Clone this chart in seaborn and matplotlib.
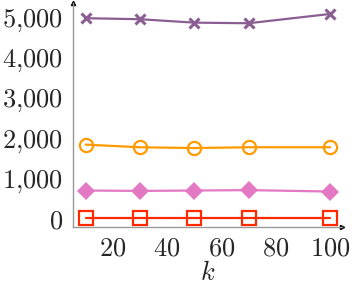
import numpy as np
import pandas as pd
import matplotlib
matplotlib.use('Agg')
import matplotlib.pyplot as plt
import seaborn as sns
from matplotlib.ticker import FuncFormatter

sns.set_style('white')
plt.rcParams['mathtext.fontset'] = 'cm'
plt.rcParams['font.family'] = ['DejaVu Serif']

k = [10, 30, 50, 70, 100]
purple = [4970, 4945, 4860, 4845, 5075]
orange = [1830, 1765, 1745, 1765, 1765]
pink = [690, 680, 690, 700, 665]
red = [20, 20, 20, 20, 20]

fig = plt.figure(figsize=(3.55, 2.85), dpi=100)
ax = fig.add_axes([0.2048, 0.2035, 0.7577, 0.786])

sns.lineplot(x=k, y=purple, ax=ax, color='#8b5e93', marker='x', ms=7, mew=2.2,
             mec='#8b5e93', lw=1.6)
sns.lineplot(x=k, y=orange, ax=ax, color='#ff9a00', marker='o', ms=9.5, mew=1.6,
             mfc='none', mec='#ff9a00', lw=1.6)
sns.lineplot(x=k, y=pink, ax=ax, color='#e378c3', marker='D', ms=9, mew=0,
             mec='#e378c3', lw=1.6)
sns.lineplot(x=k, y=red, ax=ax, color='#ff2a00', marker='s', ms=9.5, mew=1.6,
             mfc='none', mec='#ff2a00', lw=1.6)

ax.set_xlim(5.26, 104.3)
ax.set_ylim(-216, 5348)
ax.set_xticks([20, 40, 60, 80, 100])
ax.set_yticks([0, 1000, 2000, 3000, 4000, 5000])
ax.yaxis.set_major_formatter(FuncFormatter(lambda v, p: '$' + f'{int(v):,}'.replace(',', '{,}') + '$'))
ax.xaxis.set_major_formatter(FuncFormatter(lambda v, p: f'${int(v)}$'))
ax.tick_params(labelsize=19, direction='inout', length=4, color='#cccccc')
ax.tick_params(axis='y', pad=5)
ax.tick_params(axis='x', pad=4)
ax.set_xlabel('$k$', fontsize=19, labelpad=0)

for s in ['top', 'right']:
    ax.spines[s].set_visible(False)
for s in ['left', 'bottom']:
    ax.spines[s].set_color('#999999')
    ax.spines[s].set_linewidth(1.0)
ax.plot(1, 0, '>', color='black', ms=3, transform=ax.transAxes, clip_on=False)
ax.plot(0, 1, '^', color='black', ms=3, transform=ax.transAxes, clip_on=False)

fig.savefig('out.png', dpi=100)
